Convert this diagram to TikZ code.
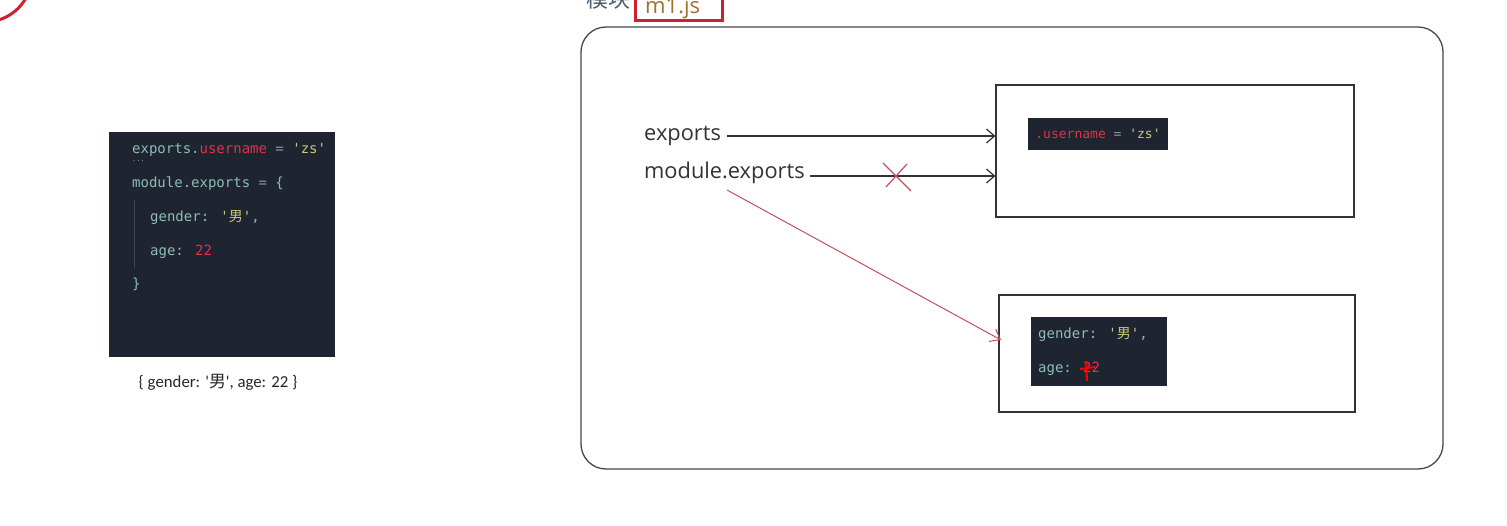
\documentclass[tikz,border=0pt]{standalone}
\usepackage{fontspec}
\setmainfont{Open Sans}
\newfontfamily\codefont{DejaVu Sans Mono}
\newfontfamily\cjkfont{Noto Sans CJK SC}
\newfontfamily\capfont{Carlito}
\usetikzlibrary{arrows.meta,calc}
\definecolor{codebg}{HTML}{1E2430}
\definecolor{codeteal}{HTML}{8EBDB4}
\definecolor{codered}{HTML}{E0344A}
\definecolor{codegray}{HTML}{8A9A9A}
\definecolor{codegreen}{HTML}{C9C97A}
\definecolor{linegray}{HTML}{333333}
\definecolor{annored}{HTML}{D02030}
\definecolor{softred}{HTML}{C8505A}
\definecolor{titleblue}{HTML}{4A5A70}
\definecolor{titleorange}{HTML}{A07030}
\tikzset{
  x=1pt, y=-1pt,
  lab/.style={inner sep=0pt, anchor=west, text=linegray, font=\fontsize{21.8}{26}\selectfont},
  codeln/.style={inner sep=0pt, anchor=base west, text=codeteal, font=\codefont\fontsize{14}{16}\selectfont},
  codebox/.style={fill=codebg, draw=none, inner sep=0pt},
  membox/.style={draw=linegray, line width=1.3pt, inner sep=0pt},
  ptr/.style={draw=linegray, line width=1.2pt, -{Straight Barb[length=8pt,width=14pt]}},
  redptr/.style={draw=softred, line width=1pt, -{Straight Barb[length=9pt,width=14pt]}},
}
\begin{document}
\begin{tikzpicture}
\useasboundingbox (0,0) rectangle (1507,526);
\clip (0,0) rectangle (1507,526);
\fill[white] (0,0) rectangle (1507,526);

% top-left red circle fragment
\draw[annored, line width=3pt] (-15,-25) circle[radius=47];

% title
\node[inner sep=0pt, anchor=base west, text=titleblue, font=\cjkfont\fontsize{22}{24}\selectfont] (title) at (586,8) {模块};
\node[inner sep=0pt, anchor=base west, text=titleorange, font=\fontsize{22}{24}\selectfont] (file) at (645,14) {m1.js};
\draw[annored, line width=3pt] (635,-10) rectangle (722,21);

% left code box
\node[codebox, minimum width=226, minimum height=225] (code) at (222,244.5) {};
\draw[color=codebg!85!white, line width=0.8pt] (134,200) -- (134,268);
\node[codeln] (l1) at (132,154) {exports.\textcolor{codered}{username} \textcolor{codegray}{=} \textcolor{codegreen}{'zs'}};
\node[codeln, text=codegray, font=\codefont\fontsize{7}{8}\selectfont] (l1b) at (132,162) {...};
\node[codeln] (l2) at (132,188) {module.exports \textcolor{codegray}{=} \{};
\node[codeln] (l3) at (150,222) {gender: \textcolor{codegreen}{'{\cjkfont 男}'},};
\node[codeln] (l4) at (150,256) {age: \textcolor{codered}{22}};
\node[codeln] (l5) at (132,289) {\}};
\node[inner sep=0pt, text=black!85, font=\capfont\fontsize{16.8}{18}\selectfont] (cap) at (218,382) {\{ gender: '{\cjkfont 男}', age: 22 \}};

% module frame
\draw[linegray!90, line width=1.3pt, rounded corners=25pt] (581,27) rectangle (1443,469);

% memory boxes
\node[membox, minimum width=358, minimum height=132] (obj1) at (1175,151) {};
\node[membox, minimum width=356, minimum height=117] (obj2) at (1177,353.5) {};

% object contents
\node[codebox, minimum width=140, minimum height=32, text=codered, font=\codefont\fontsize{13}{15}\selectfont] (c1) at (1098,134) {.username \textcolor{codegray}{=} \textcolor{codegreen}{'zs'}};
\node[codebox, minimum width=136, minimum height=69] (c2) at (1099,351.5) {};
\node[codeln] (c2a) at (1038,339) {gender: \textcolor{codegreen}{'{\cjkfont 男}'},};
\node[codeln] (c2b) at (1038,373) {age: \textcolor{codered}{22}};
\draw[red, line width=2pt] (1086,361) -- (1087,381) (1080,369) -- (1095,367);

% labels
\node[lab] (exp) at (644,136) {exports};
\node[lab] (mexp) at (644,173) {module.exports};

% pointers
\coordinate (a1) at (obj1.west |- 0,136);
\coordinate (a2) at (obj1.west |- 0,176);
\coordinate (s1) at ([xshift=6pt]exp.east);
\coordinate (s2) at ([xshift=5pt]mexp.east);
\draw[ptr] (s1 |- a1) -- (a1);
\draw[ptr] (s2 |- a2) -- (a2);
\coordinate (x1) at (897,176);
\draw[softred, line width=1.2pt] ($(x1)+(-14,-13)$) -- ($(x1)+(14,15)$) ($(x1)+(-11,11)$) -- ($(x1)+(10,-12)$);
\coordinate (r0) at (727,190);
\coordinate (r1) at (1001,340);
\draw[redptr] (r0) -- (r1);
\end{tikzpicture}
\end{document}
